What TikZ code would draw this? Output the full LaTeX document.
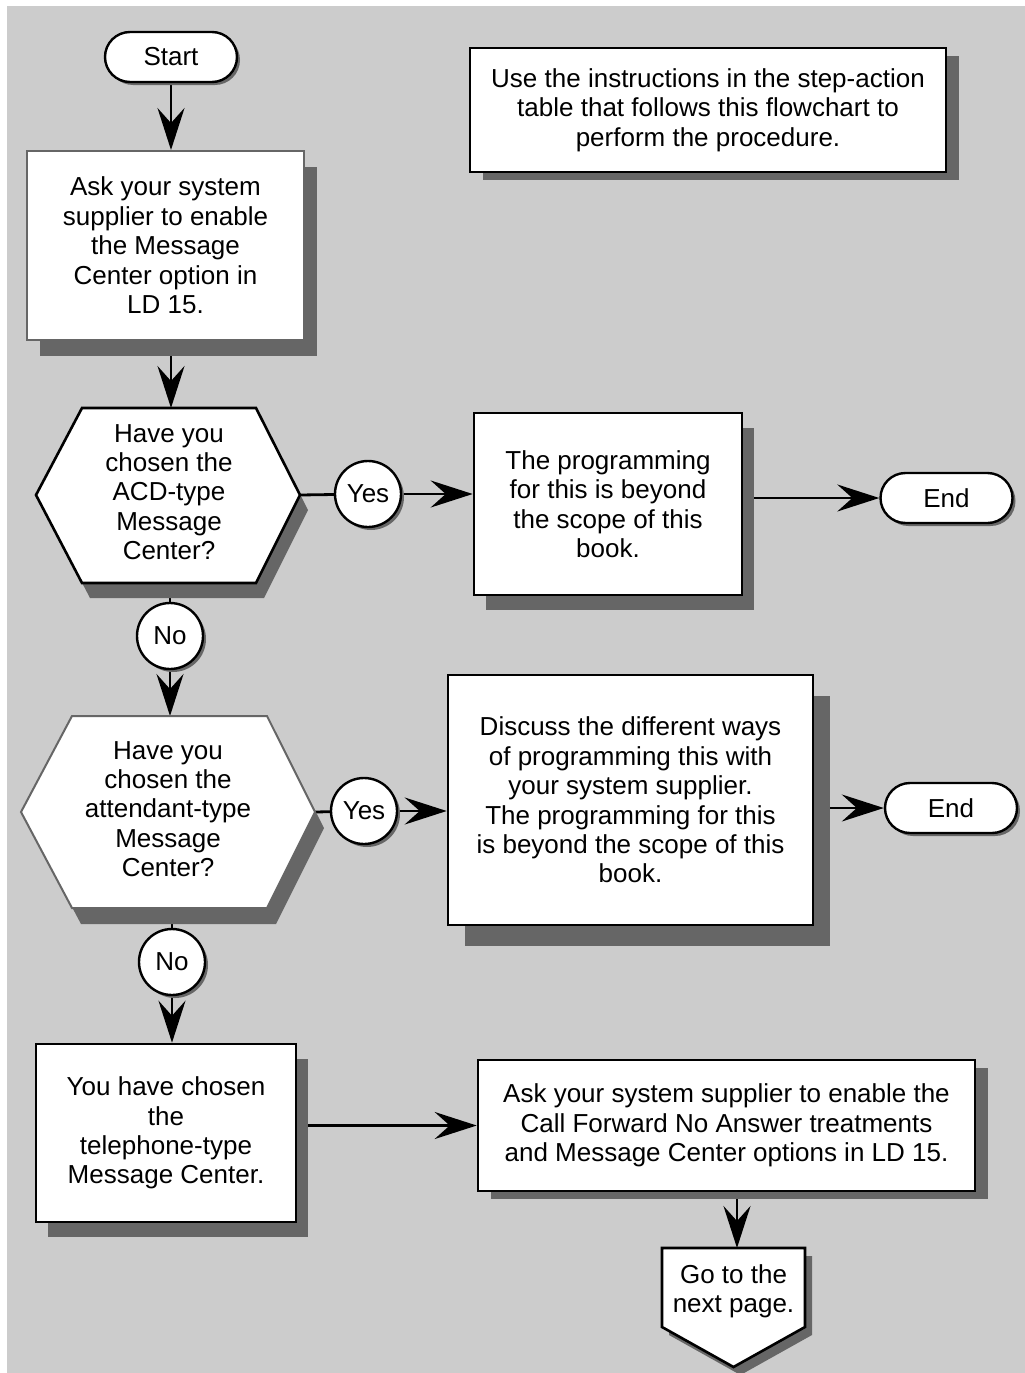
\documentclass[tikz,border=0pt]{standalone}
\usepackage{fontspec}
\setmainfont{Liberation Sans}
\usetikzlibrary{arrows.meta,shadows,shapes.misc}
\definecolor{bggray}{HTML}{CCCCCC}
\definecolor{shgray}{HTML}{666666}
\pgfdeclarelayer{bglayer}
\pgfdeclarelayer{edgelayer}
\pgfsetlayers{bglayer,edgelayer,main}
\newcommand{\flowfont}{\fontsize{26}{29.4}\selectfont}
\begin{document}
\begin{tikzpicture}[x=1pt,y=-1pt,
  shapebase/.style={fill=white, draw=black, line width=2.6pt, font=\flowfont, align=center, inner sep=0pt},
  procbox/.style={shapebase, rectangle},
  graybox/.style={shapebase, rectangle, draw=shgray, line width=2pt},
  terminal/.style={shapebase, rounded rectangle, minimum width=132pt, minimum height=50pt, line width=2.4pt},
  answer/.style={shapebase, circle, minimum size=66pt, line width=2.4pt},
  dropshadow/.style 2 args={general shadow={fill=shgray, shadow xshift=#1pt, shadow yshift=-#2pt}},
  hexpath/.style={fill=white, draw=black, line width=2.6pt},
  plaintext/.style={font=\flowfont, align=center, inner sep=0pt},
  ln/.style={line width=2.8pt},
  arr/.style={ln, -{Stealth[length=42pt, width=27pt, inset=15pt]}},
]
\useasboundingbox (0,0) rectangle (1025,1373);
\begin{pgfonlayer}{bglayer}
  \fill[white] (0,0) rectangle (1025,1373);
  \fill[bggray] (7,6) rectangle (1025,1373);
\end{pgfonlayer}

% Nodes
\node[terminal, dropshadow={3}{3}] (start) at (171,57) {Start};
\node[graybox, dropshadow={13}{16}, minimum width=277pt, minimum height=189pt] (ask) at (165.5,245.5)
  {Ask your system\\supplier to enable\\the Message\\Center option in\\LD 15.};
\node[procbox, dropshadow={13}{8}, minimum width=476pt, minimum height=124pt] (note) at (708,110)
  {Use the instructions in the step-action\\table that follows this flowchart to\\perform the procedure.};

% Hexagon 1
\path[hexpath, dropshadow={8}{15}] (82,408) -- (256,408) -- (300,495) -- (256,583) -- (82,583) -- (36,495) -- cycle;
\node[plaintext] (hexA) at (169,492) {Have you\\chosen the\\ACD-type\\Message\\Center?};
\coordinate (hexAt) at (171,408);
\coordinate (hexAr) at (300,495);
\coordinate (hexAb) at (170,583);

\node[answer, dropshadow={3}{3}] (yesA) at (368,494) {Yes};
\node[procbox, dropshadow={12}{15}, minimum width=268pt, minimum height=182pt] (prog) at (608,504)
  {The programming\\for this is beyond\\the scope of this\\book.};
\node[terminal, dropshadow={3}{3}] (endA) at (946.5,498) {End};
\node[answer, dropshadow={3}{3}] (noA) at (170,636) {No};

% Hexagon 2
\path[hexpath, draw=shgray, line width=2pt, dropshadow={9}{16}] (72,716) -- (267,716) -- (315,812) -- (267,908) -- (72,908) -- (21,812) -- cycle;
\node[plaintext] (hexB) at (168,809) {Have you\\chosen the\\attendant-type\\Message\\Center?};
\coordinate (hexBt) at (170,716);
\coordinate (hexBr) at (315,812);
\coordinate (hexBb) at (172,908);

\node[answer, dropshadow={3}{3}] (yesB) at (364,811) {Yes};
\node[procbox, dropshadow={17}{21}, minimum width=365pt, minimum height=250pt] (discuss) at (630.5,800)
  {Discuss the different ways\\of programming this with\\your system supplier.\\The programming for this\\is beyond the scope of this\\book.};
\node[terminal, dropshadow={3}{3}] (endB) at (951,808) {End};
\node[answer, dropshadow={3}{3}] (noB) at (172,962) {No};

\node[procbox, dropshadow={12}{15}, minimum width=260pt, minimum height=178pt] (tel) at (166,1133)
  {You have chosen\\the\\telephone-type\\Message Center.};
\node[procbox, dropshadow={13}{8}, minimum width=497pt, minimum height=131pt] (cf) at (726.5,1125.5)
  {Ask your system supplier to enable the\\Call Forward No Answer treatments\\and Message Center options in LD 15.};

% Off-page connector
\path[hexpath, dropshadow={7}{8}] (662,1248) -- (805,1248) -- (805,1327) -- (733.5,1367) -- (662,1327) -- cycle;
\node[plaintext] (goto) at (733.5,1291) {Go to the\\next page.};
\coordinate (gotoTop) at (737,1248);

% Connectors
\begin{pgfonlayer}{edgelayer}
  \draw[arr] (start.south) -- (start.south |- ask.north);
  \draw[arr] (ask.south -| hexAt) -- (hexAt);
  \draw[ln] (hexAr) -- (yesA);
  \draw[arr] (yesA) -- (yesA -| prog.west);
  \draw[arr] (prog.east |- endA) -- (endA.west);
  \draw[ln] (hexAb) -- (noA);
  \draw[arr] (noA) -- (hexBt);
  \draw[ln] (hexBr) -- (yesB);
  \draw[arr] (yesB) -- (yesB -| discuss.west);
  \draw[arr] (discuss.east |- endB) -- (endB.west);
  \draw[ln] (hexBb) -- (noB);
  \draw[arr] (noB) -- (noB |- tel.north);
  \draw[arr] (tel.east |- cf.west) -- (cf.west);
  \draw[arr] (cf.south -| gotoTop) -- (gotoTop);
\end{pgfonlayer}
\end{tikzpicture}
\end{document}
